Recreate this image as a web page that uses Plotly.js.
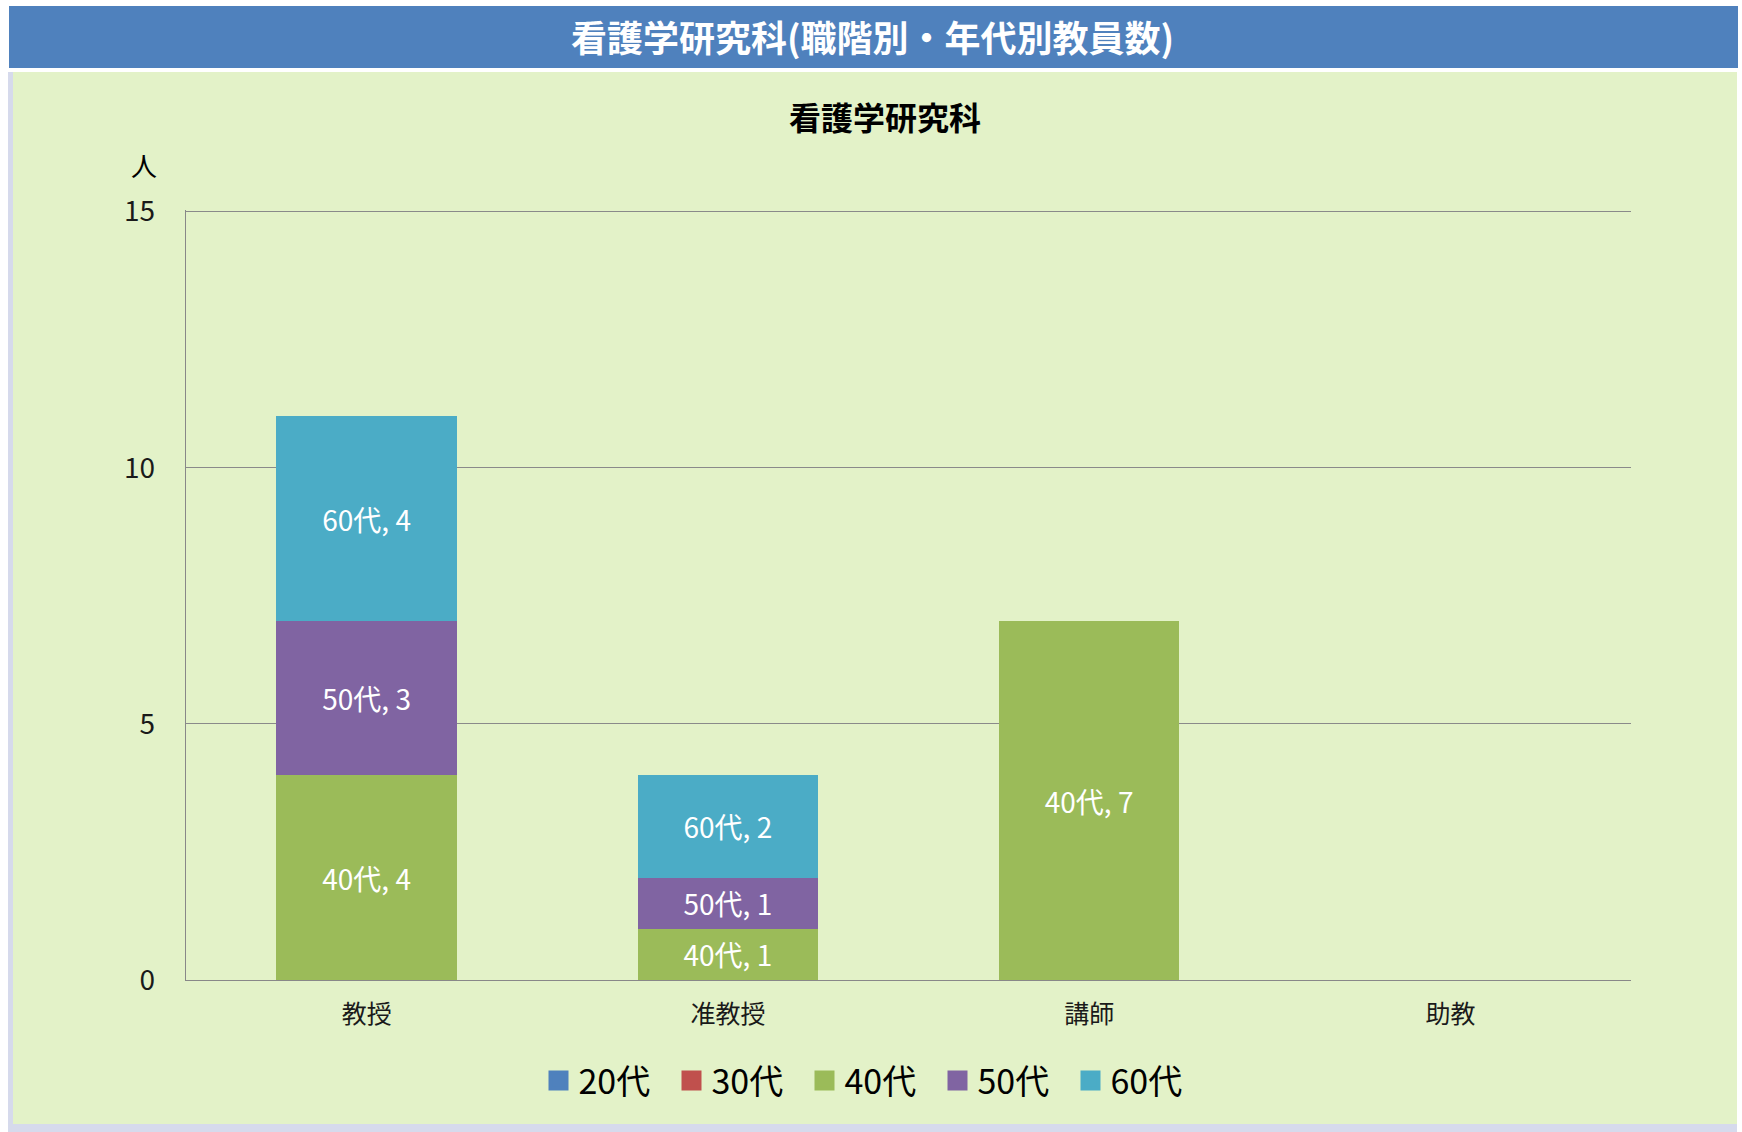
<!DOCTYPE html>
<html>
<head>
<meta charset="utf-8">
<script src="https://cdn.plot.ly/plotly-3.0.1.min.js"></script>
<style>html,body{margin:0;padding:0;background:#fff;}#chart{width:1742px;height:1132px;}</style>
</head>
<body>
<div id="chart"></div>
<script>
// ---- data ----
const categories = ["教授", "准教授", "講師", "助教"];
const seriesNames = ["20代", "30代", "40代", "50代", "60代"];
const values20 = [0, 0, 0, 0];
const values30 = [0, 0, 0, 0];
const values40 = [4, 1, 7, 0];
const values50 = [3, 1, 0, 0];
const values60 = [4, 2, 0, 0];
const seriesColors = ["#4F81BD", "#C0504D", "#9BBB59", "#8064A2", "#4BACC6"];
const headerTitle = "看護学研究科(職階別・年代別教員数)";
const chartTitle = "看護学研究科";
const yUnit = "人";

const W = 1742, H = 1132;
const M = {l: 186, r: 111, t: 210, b: 152};
const PW = W - M.l - M.r, PH = H - M.t - M.b;
const fx = px => (px - M.l) / PW;
const fy = py => (H - M.b - py) / PH;

const FONT = "'Noto Sans CJK JP', 'Noto Sans', sans-serif";
const allValues = [values20, values30, values40, values50, values60];

const barTraces = seriesNames.map((name, i) => ({
  type: "bar",
  name: name,
  legendgroup: name,
  showlegend: false,
  x: categories,
  y: allValues[i],
  text: allValues[i].map(v => v > 0 ? name + ", " + v : ""),
  textposition: "inside",
  insidetextanchor: "middle",
  textangle: 0,
  constraintext: "none",
  textfont: {family: FONT, size: 28, color: "#ffffff"},
  marker: {color: seriesColors[i], line: {width: 0}},
  hoverinfo: "none"
}));

// legend entries (square keys sized like the reference)
const legendTraces = seriesNames.map((name, i) => ({
  type: "scatter",
  mode: "markers",
  name: name,
  legendgroup: name,
  x: [null], y: [null],
  marker: {symbol: "square", size: 16, color: seriesColors[i],
           line: {color: seriesColors[i], width: 4}},
  hoverinfo: "none"
}));

const layout = {
  width: W, height: H,
  margin: M,
  paper_bgcolor: "#ffffff",
  plot_bgcolor: "rgba(0,0,0,0)",
  barmode: "stack",
  bargap: 0.5,
  showlegend: true,
  font: {family: FONT, color: "#1a1a1a"},
  title: {
    text: "<b>" + chartTitle + "</b>",
    x: 885 / W, xanchor: "center", xref: "container",
    y: 1 - 119 / H, yanchor: "middle", yref: "container",
    font: {family: FONT, size: 32, color: "#000000"}
  },
  xaxis: {
    type: "category",
    categoryarray: categories,
    showgrid: false,
    showline: true, linecolor: "#888888", linewidth: 1.3,
    ticks: "", ticklabelstandoff: 12,
    tickfont: {family: FONT, size: 25, color: "#1a1a1a"},
    fixedrange: true
  },
  yaxis: {
    range: [0, 15.03], tickvals: [0, 5, 10, 15],
    showgrid: true, gridcolor: "#8a8a8a", gridwidth: 1.3,
    showline: true, linecolor: "#888888", linewidth: 1.3,
    zeroline: false,
    ticks: "", ticklabelstandoff: 24,
    tickfont: {family: FONT, size: 28, color: "#1a1a1a"},
    fixedrange: true
  },
  legend: {
    orientation: "h",
    x: fx(871), xanchor: "center",
    y: fy(1081), yanchor: "middle",
    font: {family: FONT, size: 34, color: "#000000"},
    itemwidth: 30,
    itemsizing: "trace",
    entrywidth: 88,
    entrywidthmode: "pixels",
    traceorder: "normal",
    bgcolor: "rgba(0,0,0,0)"
  },
  shapes: [
    {type: "rect", xref: "paper", yref: "paper", layer: "below",
     x0: fx(9), x1: fx(1738), y0: fy(6), y1: fy(68),
     fillcolor: "#4F81BD", line: {width: 0}},
    {type: "rect", xref: "paper", yref: "paper", layer: "below",
     x0: fx(8), x1: fx(1737), y0: fy(72), y1: fy(1132),
     fillcolor: "#D6DAEC", line: {width: 0}},
    {type: "rect", xref: "paper", yref: "paper", layer: "below",
     x0: fx(13), x1: fx(1737), y0: fy(72), y1: fy(1124),
     fillcolor: "#E3F2C8", line: {width: 0}}
  ],
  annotations: [
    {text: "<b>" + headerTitle + "</b>", xref: "paper", yref: "paper",
     x: fx(872), y: fy(36), xanchor: "center", yanchor: "middle",
     showarrow: false, font: {family: FONT, size: 36, color: "#ffffff"}},
    {text: yUnit, xref: "paper", yref: "paper",
     x: fx(144), y: fy(165), xanchor: "center", yanchor: "middle",
     showarrow: false, font: {family: FONT, size: 26, color: "#000000"}}
  ]
};

Plotly.newPlot("chart", barTraces.concat(legendTraces), layout, {displayModeBar: false, staticPlot: true});
</script>
</body>
</html>
